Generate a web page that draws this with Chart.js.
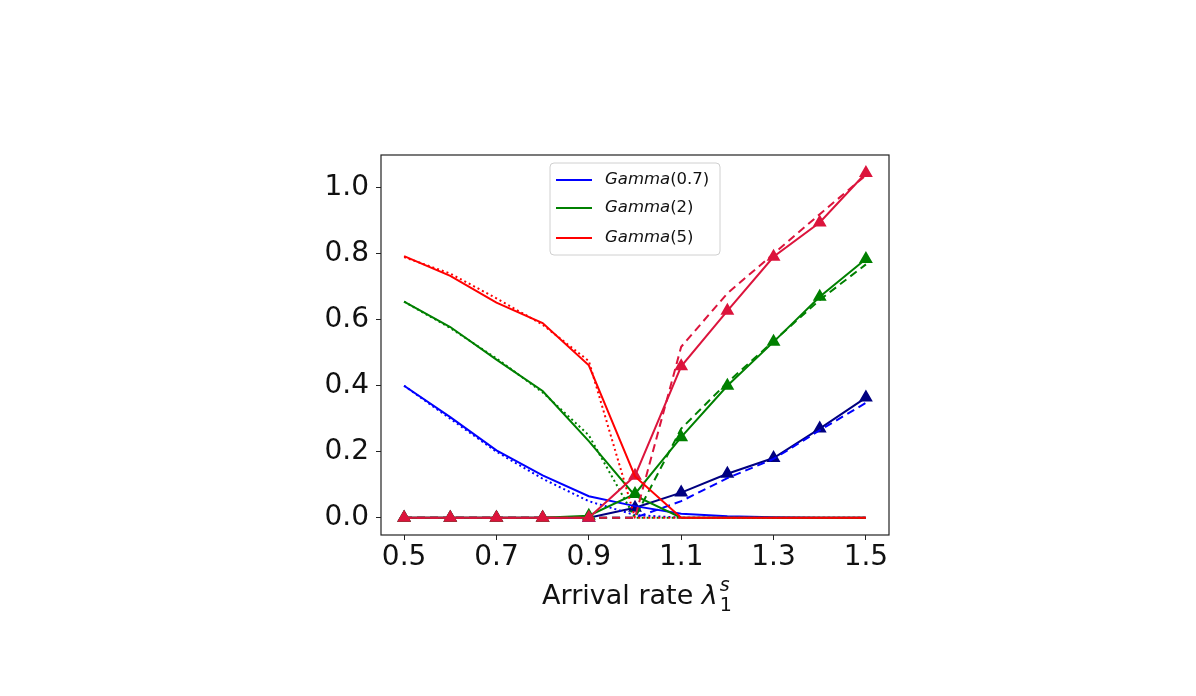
<!DOCTYPE html>
<html>
<head>
<meta charset="utf-8">
<script src="https://cdn.jsdelivr.net/npm/chart.js@4.4.1/dist/chart.umd.min.js"></script>
<style>
  html, body { margin: 0; padding: 0; background: #fff; }
  #wrap { width: 1196px; height: 696px; }
</style>
</head>
<body>
<div id="wrap"><canvas id="myChart" width="1196" height="696"></canvas></div>
<script>
// arrival rates on the x axis
const lambdas = [0.5, 0.6, 0.7, 0.8, 0.9, 1.0, 1.1, 1.2, 1.3, 1.4, 1.5];
const xTicks = [0.5, 0.7, 0.9, 1.1, 1.3, 1.5];
const yTicks = [0.0, 0.2, 0.4, 0.6, 0.8, 1.0];

// Gamma(0.7)
const g07Down = [0.40, 0.305, 0.204, 0.128, 0.065, 0.035, 0.012, 0.004, 0.001, 0, 0];
const g07DownDot = [0.40, 0.30, 0.20, 0.118, 0.05, 0.008, 0, 0, 0, 0, 0];
const g07Up = [0, 0, 0, 0, 0, 0.03, 0.076, 0.133, 0.181, 0.27, 0.364];
const g07UpDash = [0, 0, 0, 0, 0, 0, 0.05, 0.12, 0.178, 0.265, 0.348];

// Gamma(2)
const g2Down = [0.655, 0.578, 0.479, 0.384, 0.232, 0.067, 0, 0, 0, 0, 0];
const g2DownDot = [0.655, 0.575, 0.483, 0.38, 0.25, 0, 0, 0, 0, 0, 0];
const g2Up = [0, 0, 0, 0, 0.006, 0.072, 0.244, 0.40, 0.533, 0.67, 0.784];
const g2UpDash = [0, 0, 0, 0, 0, 0, 0.27, 0.41, 0.535, 0.66, 0.768];

// Gamma(5)
const g5Down = [0.793, 0.733, 0.652, 0.59, 0.462, 0.125, 0, 0, 0, 0, 0];
const g5DownDot = [0.79, 0.74, 0.665, 0.585, 0.475, 0, 0, 0, 0, 0, 0];
const g5Up = [0, 0, 0, 0, 0, 0.127, 0.459, 0.627, 0.791, 0.895, 1.045];
const g5UpDash = [0, 0, 0, 0, 0, 0, 0.518, 0.68, 0.80, 0.92, 1.038];

const legendLabels = ['(0.7)', '(2)', '(5)'];
const legendColors = ['blue', 'green', 'red'];

function pts(arr) {
    return arr.map((v, i) => ({ x: lambdas[i], y: v }));
}

function line(data, color, dash, marker) {
    return {
        data: pts(data),
        borderColor: color,
        backgroundColor: color,
        borderWidth: 2,
        borderDash: dash,
        pointStyle: 'triangle',
        pointRadius: marker ? 6 : 0,
        pointHoverRadius: marker ? 6 : 0,
        tension: 0,
        fill: false
    };
}

const FONT = "'DejaVu Sans', sans-serif";
const INK = '#111';

const framePlugin = {
    id: 'frame',
    afterDraw(chart) {
        const { ctx, chartArea: a } = chart;
        ctx.save();
        ctx.strokeStyle = '#222';
        ctx.lineWidth = 1.2;
        ctx.strokeRect(a.left, a.top, a.right - a.left, a.bottom - a.top);

        // legend box
        const lx = a.left + 169, ly = a.top + 8, lw = 170, lh = 92;
        ctx.fillStyle = 'rgba(255,255,255,0.85)';
        ctx.strokeStyle = '#d0d0d0';
        ctx.lineWidth = 1;
        ctx.beginPath();
        ctx.roundRect(lx, ly, lw, lh, 4);
        ctx.fill();
        ctx.stroke();
        const rows = [ly + 17, ly + 45, ly + 75];
        rows.forEach((ry, i) => {
            ctx.strokeStyle = legendColors[i];
            ctx.lineWidth = 2;
            ctx.beginPath();
            ctx.moveTo(lx + 6, ry);
            ctx.lineTo(lx + 42, ry);
            ctx.stroke();
            ctx.fillStyle = INK;
            ctx.textBaseline = 'middle';
            ctx.textAlign = 'left';
            ctx.font = 'oblique 16.5px ' + FONT;
            ctx.fillText('Gamma', lx + 55, ry);
            const w = ctx.measureText('Gamma').width;
            ctx.font = '16.5px ' + FONT;
            ctx.fillText(legendLabels[i], lx + 55 + w, ry);
        });

        // x axis title: Arrival rate λ_1^s
        ctx.fillStyle = INK;
        ctx.textBaseline = 'alphabetic';
        ctx.textAlign = 'left';
        ctx.font = '27px ' + FONT;
        const t1 = 'Arrival rate ';
        const w1 = ctx.measureText(t1).width;
        ctx.font = 'oblique 27px ' + FONT;
        const w2 = ctx.measureText('λ').width;
        ctx.font = '19px ' + FONT;
        const w3 = ctx.measureText('1').width;
        const total = w1 + w2 + 2 + w3;
        const x0 = (a.left + a.right) / 2 - total / 2 + 2;
        const base = a.bottom + 69;
        ctx.font = '27px ' + FONT;
        ctx.fillText(t1, x0, base);
        ctx.font = 'oblique 27px ' + FONT;
        ctx.fillText('λ', x0 + w1, base);
        ctx.font = 'oblique 19px ' + FONT;
        ctx.fillText('s', x0 + w1 + w2 + 2, base - 13);
        ctx.font = '19px ' + FONT;
        ctx.fillText('1', x0 + w1 + w2 + 2, base + 7);
        ctx.restore();
    }
};

const bgPlugin = {
    id: 'bg',
    beforeDraw(chart) {
        const ctx = chart.ctx;
        ctx.save();
        ctx.fillStyle = '#fff';
        ctx.fillRect(0, 0, chart.width, chart.height);
        ctx.restore();
    }
};

document.addEventListener('DOMContentLoaded', () => {
    const ctx = document.getElementById('myChart').getContext('2d');

    const myChart = new Chart(ctx, {
        type: 'line',
        data: {
            datasets: [
                line(g5Down, 'red', [], false),
                line(g5DownDot, 'red', [2, 3], false),
                line(g5UpDash, 'crimson', [8, 5], false),
                line(g5Up, 'crimson', [], true),
                line(g2Down, 'green', [], false),
                line(g2DownDot, 'green', [2, 3], false),
                line(g2UpDash, 'green', [8, 5], false),
                line(g2Up, 'green', [], true),
                line(g07Down, 'blue', [], false),
                line(g07DownDot, 'blue', [2, 3], false),
                line(g07UpDash, 'blue', [8, 5], false),
                line(g07Up, 'navy', [], true)
            ]
        },
        plugins: [bgPlugin, framePlugin],
        options: {
            responsive: false,
            animation: false,
            layout: { padding: { left: 0, right: 307, top: 155, bottom: 0 } },
            plugins: {
                legend: { display: false },
                tooltip: { enabled: false }
            },
            scales: {
                x: {
                    type: 'linear',
                    min: 0.45,
                    max: 1.55,
                    afterFit(scale) { scale.height = 161; },
                    afterBuildTicks(scale) { scale.ticks = xTicks.map(v => ({ value: v })); },
                    grid: { drawOnChartArea: false, drawTicks: true, tickLength: 5, color: '#222', lineWidth: 1 },
                    border: { display: false },
                    ticks: {
                        font: { family: FONT, size: 28 },
                        color: INK,
                        padding: 1,
                        maxRotation: 0,
                        callback: v => v.toFixed(1)
                    }
                },
                y: {
                    min: -0.0525,
                    max: 1.0995,
                    afterFit(scale) { scale.width = 381; },
                    afterBuildTicks(scale) { scale.ticks = yTicks.map(v => ({ value: v })); },
                    grid: { drawOnChartArea: false, drawTicks: true, tickLength: 5, color: '#222', lineWidth: 1 },
                    border: { display: false },
                    ticks: {
                        font: { family: FONT, size: 28 },
                        color: INK,
                        padding: 7,
                        callback: v => v.toFixed(1)
                    }
                }
            }
        }
    });
});
</script>
</body>
</html>
